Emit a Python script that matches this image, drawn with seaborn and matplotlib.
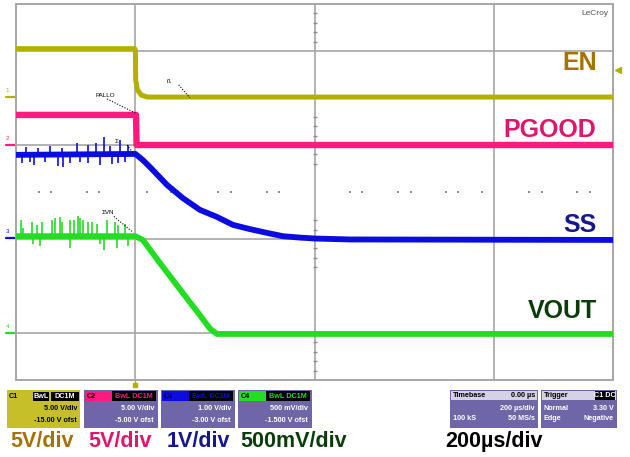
import numpy as np
import matplotlib
matplotlib.use("Agg")
import matplotlib.pyplot as plt
from matplotlib.patches import Rectangle
import matplotlib.transforms as mtransforms
import seaborn as sns

# ==========================================
# DATA (time in us, level in screen divisions)
# ==========================================
en_t = [-400, -2, 0, 1, 7, 20, 40, 1600]
en_v = [3.05, 3.05, 3.02, 2.38, 2.17, 2.06, 2.02, 2.02]

pg_t = [-400, 2, 4, 1600]
pg_v = [1.64, 1.64, 1.00, 1.00]

ss_t = [-400, 0, 25, 49, 106, 159, 216, 273, 327, 384, 441, 494, 551, 602, 719, 1600]
ss_v = [0.79, 0.81, 0.68, 0.53, 0.15, -0.13, -0.38, -0.53, -0.70, -0.79, -0.87,
        -0.94, -0.97, -0.99, -1.01, -1.02]

vo_t = [-400, 0, 25, 82, 159, 216, 250, 273, 1600]
vo_v = [-0.94, -0.94, -1.02, -1.51, -2.15, -2.62, -2.91, -3.02, -3.02]

# noise spikes before the trigger (time, tip level)
ss_spike_t = [-367, -326, -286, -246, -196, -159, -132, -105, -85, -52, -25,
              -380, -353, -340, -303, -259, -243, -219, -186, -159, -119, -78, -58, -35]
ss_spike_v = [0.96, 0.94, 0.98, 0.94, 1.04, 1.00, 1.04, 1.17, 0.98, 1.11, 1.00,
              0.62, 0.64, 0.57, 0.64, 0.55, 0.53, 0.62, 0.64, 0.62, 0.57, 0.60, 0.62, 0.64]
vo_spike_t = [-383, -377, -346, -330, -313, -279, -269, -253, -246, -219, -206, -192,
              -186, -176, -159, -145, -129, -95, -68, -58, -35,
              -343, -320, -219, -119, -105, -62, -25]
vo_spike_v = [-0.60, -0.77, -0.64, -0.70, -0.64, -0.60, -0.55, -0.53, -0.64, -0.60,
              -0.60, -0.51, -0.55, -0.60, -0.64, -0.64, -0.68, -0.60, -0.64, -0.70, -0.68,
              -1.11, -1.15, -1.19, -1.11, -1.23, -1.19, -1.15]

# graticule
grid_t = [0, 600, 1200]
grid_v = [3, 1, -1, -3]
dot_t = [-323, -283, -162, -122, 40, 120, 277, 320, 441, 481, 719, 759, 880, 923,
         1040, 1081, 1161, 1319, 1362, 1479, 1523]
tick_v = [3.8, 3.6, 3.4, 3.2, 1.6, 1.4, 1.2, 0.8, 0.6, -0.6, -0.8, -1.2, -1.4, -1.6,
          -3.2, -3.4, -3.6, -3.8]

# channel ground markers (level) and labels
marker_v = [2.02, 1.00, -0.98, -3.00]
trace_names = ["EN", "PGOOD", "SS", "VOUT"]
name_v = [2.60, 1.17, -0.85, -2.68]
scale_labels = ["5V/div", "5V/div", "1V/div", "500mV/div"]
time_label = "200\u00b5s/div"

# small cursor tags: (text, t, level, leader end t, leader end level)
tags = [("PALLO", -135, 2.0, 0, 1.68),
        ("ß", 105, 2.3, 183, 2.0),
        ("Σ", -68, 1.02, -7, 0.82),
        ("ΣVN", -112, -0.5, -8, -0.86)]

trace_cols = ["#b4b000", "#ff1a80", "#0c0ce0", "#22dd22"]
text_cols = ["#a47206", "#e0156e", "#16168e", "#0b3d0b"]

# ==========================================
# FIGURE
# ==========================================
sns.set_theme(style="white")
plt.rcParams["font.family"] = ["Liberation Sans", "DejaVu Sans"]

W, H = 630, 457
fig = plt.figure(figsize=(W / 100, H / 100), dpi=100, facecolor="white")
ax = fig.add_axes([16 / W, 77 / H, 597 / W, 376 / H])
ax.set_xlim(-400, 1600)
ax.set_ylim(-4, 4)
ax.set_xticks([])
ax.set_yticks([])
for s in ax.spines.values():
    s.set_color("#a6a6a6")
    s.set_linewidth(1.4)

gcol = "#a6a6a6"
for t in grid_t:
    ax.axvline(t, color=gcol, lw=1.2, zorder=1)
for v in grid_v:
    ax.axhline(v, color=gcol, lw=1.2, zorder=1)
ax.scatter(dot_t, [0] * len(dot_t), s=2, color="#8c8c8c", marker="s", lw=0, zorder=1)
ax.scatter([600] * len(tick_v), tick_v, s=12, color="#8c8c8c", marker="_", lw=1, zorder=1)

# traces
series = [(en_t, en_v), (pg_t, pg_v), (ss_t, ss_v), (vo_t, vo_v)]
widths = [3.6, 4.6, 4.2, 4.2]
for (t, v), c, w in zip(series, trace_cols, widths):
    sns.lineplot(x=t, y=v, ax=ax, color=c, lw=w, estimator=None, sort=False,
                 solid_capstyle="butt", zorder=3)

ax.vlines(ss_spike_t, ss_v[0], ss_spike_v, color=trace_cols[2], lw=1.2, zorder=3)
ax.vlines(vo_spike_t, vo_v[0], vo_spike_v, color=trace_cols[3], lw=1.2, zorder=3)

# cursor tags
for s, t, v, t2, v2 in tags:
    ax.text(t, v, s, fontsize=4.5, color="black", ha="left", va="bottom", zorder=6)
    ax.plot([t + 40, t2], [v - 0.02, v2], color="black", lw=0.8, ls=(0, (1, 1.5)), zorder=6)

# trace names
for name, v, c in zip(trace_names, name_v, text_cols):
    ax.text(1545, v, name, color=c, fontsize=18, fontweight="bold", ha="right",
            va="baseline", zorder=5)

# left channel markers, right trigger level, bottom trigger position
blend = mtransforms.blended_transform_factory(ax.transAxes, ax.transData)
for i, (v, c) in enumerate(zip(marker_v, trace_cols)):
    ax.plot([-0.017, -0.002], [v, v], transform=blend, color=c, lw=1.6, clip_on=False)
    ax.text(-0.017, v + 0.08, str(i + 1), transform=blend, color=c, fontsize=4.5,
            ha="left", va="bottom", clip_on=False)
ax.plot([1.008], [2.6], transform=blend, marker="<", color=trace_cols[0], ms=4,
        clip_on=False)
blend_b = mtransforms.blended_transform_factory(ax.transData, ax.transAxes)
ax.plot([0], [-0.012], transform=blend_b, marker="s", color=trace_cols[0], ms=3.5,
        clip_on=False)
ax.plot([0, 0], [-0.012, 0], transform=blend_b, color=trace_cols[0], lw=1, clip_on=False)

ax.text(0.993, 0.985, "LeCroy", transform=ax.transAxes, fontsize=6, color="#555555",
        ha="right", va="top", bbox=dict(fc="white", ec="none", pad=0.5))

# ==========================================
# INFO BOXES (figure pixels)
# ==========================================
def fx(x):
    return x / W


def fy(y):
    return 1 - y / H


def rect(x0, y0, x1, y1, col, z=1):
    fig.add_artist(Rectangle((fx(x0), fy(y1)), fx(x1) - fx(x0), fy(y0) - fy(y1),
                             transform=fig.transFigure, fc=col, ec="none", zorder=z))


def txt(x, y, s, col="white", ha="left", size=5.2):
    fig.text(fx(x), fy(y), s, color=col, fontsize=size, ha=ha, va="center",
             fontweight="bold", zorder=5)


body = "#6e66a6"
# channel 1 (yellow)
rect(7, 390, 80, 428, "#c6bf2a")
rect(33, 392, 49, 401, "black", 2)
rect(51, 392, 79, 401, "black", 2)
txt(9, 396.5, "C1", "black")
txt(41, 396.5, "BwL", "white", "center")
txt(65, 396.5, "DC1M", "white", "center")
txt(77, 409, "5.00 V/div", "black", "right")
txt(77, 420, "-15.00 V ofst", "black", "right")

boxes = [(84, "C2", "5.00 V/div", "-5.00 V ofst"),
         (161, "C3", "1.00 V/div", "-3.00 V ofst"),
         (238, "C4", "500 mV/div", "-1.500 V ofst")]
for (x0, ch, l1, l2), c in zip(boxes, trace_cols[1:]):
    rect(x0, 390, x0 + 74, 428, body)
    rect(x0 + 1, 391, x0 + 28, 401, c, 2)
    rect(x0 + 28, 391, x0 + 72, 401, "black", 2)
    txt(x0 + 3, 396, ch, "black")
    txt(x0 + 50, 396, "BwL DC1M", c, "center")
    txt(x0 + 70, 409, l1, "white", "right")
    txt(x0 + 70, 420, l2, "white", "right")

# timebase / trigger
rect(450, 390, 538, 428, body)
rect(451, 391, 537, 400, "#d4d2e4", 2)
txt(453, 395.5, "Timebase", "black")
txt(535, 395.5, "0.00 \u00b5s", "black", "right")
txt(535, 408, "200 \u00b5s/div", "white", "right")
txt(453, 419, "100 kS", "white")
txt(535, 419, "50 MS/s", "white", "right")

rect(541, 390, 617, 428, body)
rect(542, 391, 616, 400, "#d4d2e4", 2)
rect(595, 391, 615, 400, "black", 3)
txt(544, 395.5, "Trigger", "black")
txt(605, 395.5, "C1 DC", "white", "center")
txt(544, 408, "Normal", "white")
txt(614, 408, "3.30 V", "white", "right")
txt(544, 419, "Edge", "white")
txt(614, 419, "Negative", "white", "right")

# ==========================================
# SCALE LABELS
# ==========================================
for x0, s, c in zip([10, 88, 167, 240], scale_labels, text_cols):
    fig.text(fx(x0), fy(447), s, color=c, fontsize=15.5, fontweight="bold",
             ha="left", va="baseline")
fig.text(fx(445), fy(447), time_label, color="black", fontsize=15.5,
         fontweight="bold", ha="left", va="baseline")

fig.savefig("out.png", dpi=100, facecolor="white")
